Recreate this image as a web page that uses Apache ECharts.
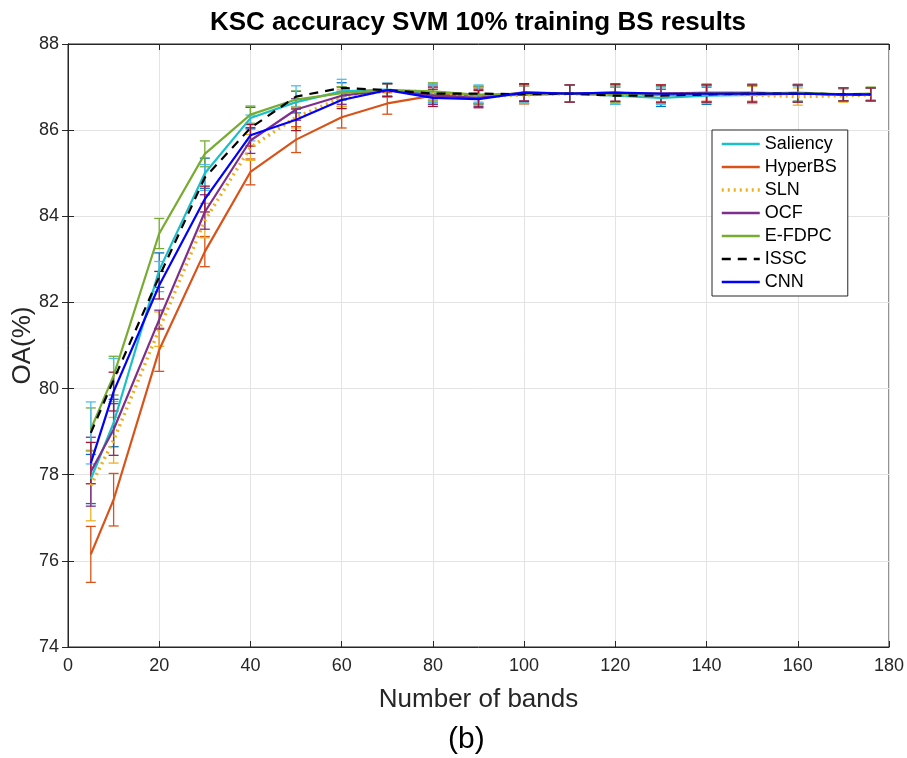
<!DOCTYPE html>
<html>
<head>
<meta charset="utf-8">
<script src="https://cdn.jsdelivr.net/npm/echarts@6/dist/echarts.min.js"></script>
<style>html,body{margin:0;padding:0;background:#fff}#c{width:907px;height:758px}</style>
</head>
<body>
<div id="c"></div>
<script>
const bands = [5,10,20,30,40,50,60,70,80,90,100,110,120,130,140,150,160,170,176];
const seriesNames = ['Saliency','HyperBS','SLN','OCF','E-FDPC','ISSC','CNN'];
const saliency = [77.9,79.2,82.75,85.0,86.28,86.65,86.9,86.94,86.85,86.8,86.82,86.85,86.8,86.75,86.8,86.82,86.85,86.83,86.83];
const saliencyStd = [0.57,0.55,0.4,0.35,0.25,0.25,0.2,0.15,0.2,0.2,0.2,0.2,0.2,0.2,0.2,0.2,0.18,0.15,0.15];
const hyperbs = [76.15,77.42,80.9,83.18,85.03,85.78,86.3,86.62,86.8,86.82,86.83,86.85,86.85,86.85,86.87,86.87,86.85,86.83,86.83];
const hyperbsStd = [0.65,0.61,0.5,0.35,0.3,0.3,0.25,0.25,0.2,0.2,0.22,0.2,0.2,0.2,0.2,0.2,0.2,0.15,0.15];
const sln = [77.75,78.8,81.38,83.9,85.6,86.3,86.75,86.92,86.88,86.78,86.82,86.85,86.82,86.82,86.85,86.82,86.78,86.8,86.82];
const slnStd = [0.82,0.53,0.4,0.4,0.3,0.25,0.2,0.15,0.2,0.2,0.2,0.2,0.2,0.2,0.2,0.2,0.2,0.15,0.15];
const ocf = [78.07,79.05,81.6,84.1,85.76,86.48,86.8,86.93,86.8,86.75,86.88,86.85,86.87,86.82,86.85,86.85,86.85,86.83,86.83];
const ocfStd = [0.8,0.6,0.22,0.4,0.3,0.25,0.2,0.15,0.2,0.2,0.2,0.2,0.2,0.2,0.2,0.2,0.2,0.15,0.15];
const efdpc = [79.05,80.3,83.6,85.45,86.36,86.71,86.86,86.93,86.9,86.82,86.85,86.85,86.85,86.82,86.85,86.85,86.87,86.83,86.85];
const efdpcStd = [0.5,0.45,0.35,0.3,0.2,0.2,0.15,0.15,0.2,0.2,0.2,0.2,0.2,0.2,0.2,0.2,0.2,0.15,0.15];
const issc = [78.97,80.2,82.6,84.9,86.05,86.78,86.98,86.93,86.85,86.85,86.83,86.85,86.8,86.8,86.83,86.85,86.85,86.83,86.83];
const isscStd = [0.72,0.5,0.35,0.3,0.3,0.25,0.2,0.15,0.2,0.2,0.2,0.2,0.2,0.2,0.2,0.2,0.2,0.15,0.15];
const cnn = [78.27,79.93,82.4,84.4,85.88,86.24,86.7,86.93,86.75,86.72,86.87,86.85,86.87,86.85,86.85,86.85,86.85,86.83,86.83];
const cnnStd = [0.48,0.45,0.32,0.3,0.25,0.25,0.2,0.15,0.2,0.2,0.2,0.2,0.2,0.2,0.2,0.2,0.2,0.15,0.15];

const means = [saliency,hyperbs,sln,ocf,efdpc,issc,cnn];
const stds = [saliencyStd,hyperbsStd,slnStd,ocfStd,efdpcStd,isscStd,cnnStd];
const lineColors = ['#1ABFC8','#D95319','#EDB120','#7E2F8E','#77AC30','#000000','#0000FF'];
const barColors = ['#0072BD','#D95319','#EDB120','#7E2F8E','#77AC30','#4DBEEE','#A2142F'];
const lineTypes = ['solid','solid',[2,4],'solid','solid',[9,7],'solid'];
const lineWidths = [2.2,2.2,3.5,2.2,2.2,2.2,2.2];

const chart = echarts.init(document.getElementById('c'), null, {renderer:'canvas'});
const font = "'Liberation Sans', Arial, Helvetica, sans-serif";

const series = [];
means.forEach((m, i) => {
  const col = barColors[i];
  series.push({
    type:'custom', name:'err'+i, z:2, silent:true,
    data: bands.map((b,k)=>[b, m[k]-stds[i][k], m[k]+stds[i][k]]),
    renderItem: function(params, api){
      const x = api.value(0), lo = api.value(1), hi = api.value(2);
      const p1 = api.coord([x,hi]), p2 = api.coord([x,lo]);
      const w = 5;
      const st = {stroke:col, lineWidth:1.3};
      return {type:'group', children:[
        {type:'line', shape:{x1:p1[0],y1:p1[1],x2:p2[0],y2:p2[1]}, style:st},
        {type:'line', shape:{x1:p1[0]-w,y1:p1[1],x2:p1[0]+w,y2:p1[1]}, style:st},
        {type:'line', shape:{x1:p2[0]-w,y1:p2[1],x2:p2[0]+w,y2:p2[1]}, style:st}
      ]};
    }
  });
});
means.forEach((m, i) => {
  series.push({
    type:'line', name:seriesNames[i], z:3 + (i===6?1:0),
    data: bands.map((b,k)=>[b, m[k]]),
    symbol:'none', smooth:false,
    lineStyle:{color:lineColors[i], width:lineWidths[i], type:lineTypes[i]},
    itemStyle:{color:lineColors[i]}
  });
});

chart.setOption({
  backgroundColor:'#fff',
  animation:false,
  title:{
    text:'KSC accuracy SVM 10% training BS results',
    left:473, top:5, textAlign:'center',
    textStyle:{fontFamily:font, fontWeight:'bold', fontSize:26, color:'#000'}
  },
  legend:{
    data:seriesNames.map((n,i)=>({name:n, lineStyle:{width: i===2 ? 3.5 : 2.5}})),
    orient:'vertical', left:712, top:130,
    backgroundColor:'#fff', borderColor:'#262626', borderWidth:1,
    padding:[5,11,5,8], itemGap:5, itemWidth:38, itemHeight:16,
    itemStyle:{opacity:0, borderWidth:0},
    textStyle:{fontFamily:font, fontSize:18, lineHeight:16, color:'#000'}
  },
  grid:{left:68, right:18, top:44, bottom:111, containLabel:false, outerBoundsMode:'none',
        show:true, borderColor:'#262626', borderWidth:1, backgroundColor:'transparent'},
  xAxis:[{
    type:'value', min:0, max:180, interval:20,
    name:'Number of bands', nameLocation:'middle', nameGap:40, nameMoveOverlap:false,
    nameTextStyle:{fontFamily:font, fontSize:26, color:'#262626'},
    axisLine:{show:true, lineStyle:{color:'#262626'}},
    axisTick:{show:true, inside:true, length:6, lineStyle:{color:'#262626'}},
    axisLabel:{fontFamily:font, fontSize:18, color:'#262626', margin:10},
    splitLine:{show:true, lineStyle:{color:'#e3e3e3', width:1}}
  },{
    type:'value', min:0, max:180, interval:20, position:'top',
    axisLine:{show:true, lineStyle:{color:'#262626'}},
    axisTick:{show:true, inside:true, length:6, lineStyle:{color:'#262626'}},
    axisLabel:{show:false}, splitLine:{show:false}
  }],
  yAxis:[{
    type:'value', min:74, max:88, interval:2,
    name:'OA(%)', nameLocation:'middle', nameGap:32, nameRotate:90, nameMoveOverlap:false,
    nameTextStyle:{fontFamily:font, fontSize:26, color:'#262626'},
    axisLine:{show:true, lineStyle:{color:'#262626'}},
    axisTick:{show:true, inside:true, length:6, lineStyle:{color:'#262626'}},
    axisLabel:{fontFamily:font, fontSize:18, color:'#262626', margin:9},
    splitLine:{show:true, lineStyle:{color:'#e3e3e3', width:1}}
  },{
    type:'value', min:74, max:88, interval:2, position:'right',
    axisLine:{show:true, lineStyle:{color:'#262626'}},
    axisTick:{show:true, inside:true, length:6, lineStyle:{color:'#262626'}},
    axisLabel:{show:false}, splitLine:{show:false}
  }],
  graphic:[{
    type:'text', left:448, top:725,
    style:{text:'(b)', fontFamily:font, fontSize:30, fill:'#000'}
  }],
  series:series
});
</script>
</body>
</html>
